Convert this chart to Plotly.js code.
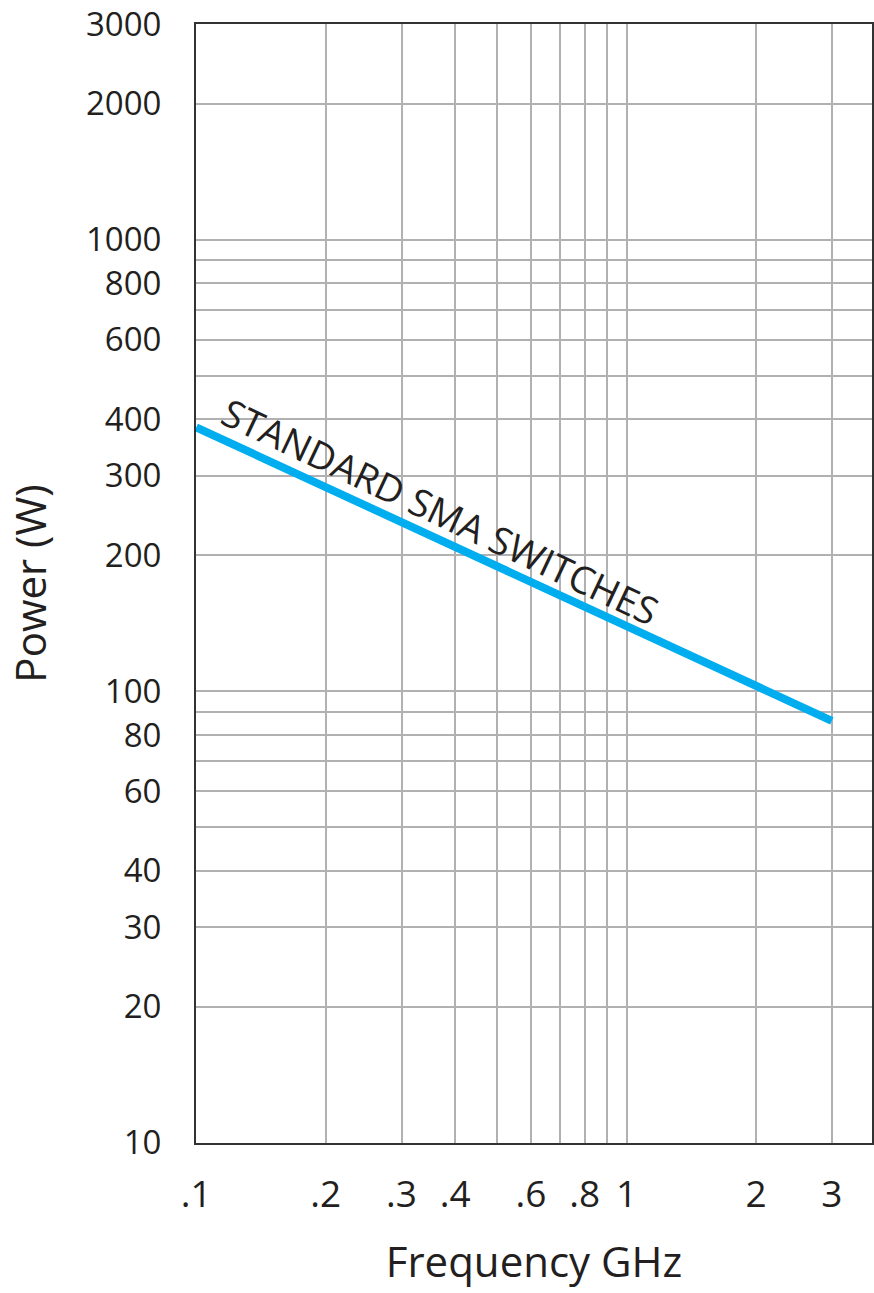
<!DOCTYPE html>
<html>
<head>
<meta charset="utf-8">
<script src="https://cdn.plot.ly/plotly-3.0.1.min.js"></script>
<style>
  html, body { margin: 0; padding: 0; background: #ffffff; }
  #chart { width: 874px; height: 1293px; }
</style>
</head>
<body>
<div id="chart"></div>
<script>
// Data
const freqGHz = [0.1, 3];
const powerW = [384, 86];
const seriesLabel = "STANDARD SMA SWITCHES";

// Axis grid / tick definitions
const xTickVals = [0.1, 0.2, 0.3, 0.4, 0.5, 0.6, 0.7, 0.8, 0.9, 1, 2, 3];
const xTickText = [".1", ".2", ".3", ".4", "", ".6", "", ".8", "", "1", "2", "3"];
const yTickVals = [10, 20, 30, 40, 50, 60, 70, 80, 90, 100, 200, 300, 400, 500, 600, 700, 800, 900, 1000, 2000, 3000];
const yTickText = ["10", "20", "30", "40", "", "60", "", "80", "", "100", "200", "300", "400", "", "600", "", "800", "", "1000", "2000", "3000"];

const textColor = "#231f20";
const fontFamily = "'Open Sans', 'Noto Sans', sans-serif";

const trace = {
  x: freqGHz,
  y: powerW,
  type: "scatter",
  mode: "lines",
  line: { color: "#00aeef", width: 8 },
  hoverinfo: "skip",
  showlegend: false
};

const layout = {
  width: 874,
  height: 1293,
  margin: { l: 196, r: 2, t: 24, b: 150, pad: 0 },
  paper_bgcolor: "#ffffff",
  plot_bgcolor: "#ffffff",
  font: { family: fontFamily, color: textColor, size: 37 },
  showlegend: false,
  xaxis: {
    type: "log",
    range: [-1.0005, Math.log10(3.72)],
    tickmode: "array",
    tickvals: xTickVals,
    ticktext: xTickText,
    ticks: "",
    showgrid: true,
    gridcolor: "#b1b1b3",
    gridwidth: 2,
    showline: true,
    linecolor: "#333333",
    linewidth: 2,
    mirror: true,
    zeroline: false,
    tickfont: { size: 37, color: textColor },
    ticklabelstandoff: 18,
    title: { text: "Frequency GHz", font: { size: 42, color: textColor }, standoff: 30 }
  },
  yaxis: {
    type: "log",
    range: [0.9995, Math.log10(3000) + 0.0005],
    tickmode: "array",
    tickvals: yTickVals,
    ticktext: yTickText,
    ticks: "",
    showgrid: true,
    gridcolor: "#b1b1b3",
    gridwidth: 2,
    showline: true,
    linecolor: "#333333",
    linewidth: 2,
    mirror: true,
    zeroline: false,
    tickfont: { size: 33, color: textColor },
    ticklabelstandoff: 26,
    title: { text: "Power (W)", font: { size: 42, color: textColor }, standoff: 26 }
  },
  annotations: [{
    text: seriesLabel,
    xref: "paper",
    yref: "paper",
    x: 0.362,
    y: 0.565,
    xanchor: "center",
    yanchor: "middle",
    showarrow: false,
    textangle: 25.3,
    font: { size: 38, color: textColor, family: fontFamily }
  }]
};

Plotly.newPlot("chart", [trace], layout, { displayModeBar: false, staticPlot: true });
</script>
</body>
</html>
